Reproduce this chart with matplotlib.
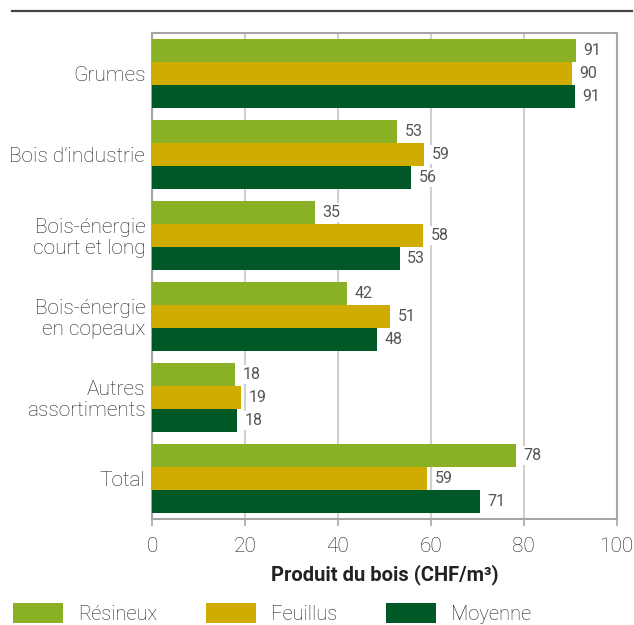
import numpy as np
import matplotlib
matplotlib.use('Agg')
from matplotlib import pyplot as plt
from matplotlib.patches import Patch
from matplotlib.lines import Line2D

# produit du bois par assortiment (CHF/m3)
categories = ['Grumes', 'Bois d\u2019industrie', 'Bois-énergie\ncourt et long',
              'Bois-énergie\nen copeaux', 'Autres\nassortiments', 'Total']
series = ['Résineux', 'Feuillus', 'Moyenne']
resineux = [91.2, 52.7, 35.05, 41.9, 17.8, 78.3]
feuillus = [90.4, 58.6, 58.3, 51.2, 19.1, 59.2]
moyenne = [91.0, 55.7, 53.3, 48.4, 18.3, 70.6]
xticks = [0, 20, 40, 60, 80, 100]

colors = ['#8ab026', '#d0ab00', '#005826']
text_col = '#222222'

plt.rcParams['font.family'] = ['Roboto', 'DejaVu Sans']

fig = plt.figure(figsize=(6.34, 6.25), dpi=100)
ax = fig.add_axes([0.2402, 0.1696, 0.7325, 0.7781])

y = np.arange(len(categories))
h = 0.284
for i, (vals, col) in enumerate(zip([resineux, feuillus, moyenne], colors)):
    pos = y + (i - 1) * h
    ax.barh(pos, vals, height=h, color=col, zorder=3)
    for p, v in zip(pos, vals):
        ax.text(v + 1.6, p, '%.0f' % v, va='center', ha='left', fontsize=11.5,
                fontweight='normal', color='#555555', zorder=4,
                bbox=dict(facecolor='white', edgecolor='none', pad=1.5))

ax.set_xlim(0, 100)
ax.set_ylim(len(categories) - 0.5, -0.5)
ax.set_xticks(xticks)
ax.set_xticklabels([str(t) for t in xticks], fontsize=15, fontweight='light',
                   color=text_col)
ax.set_yticks(y)
ax.set_yticklabels(categories, fontsize=15, fontweight='light',
                   color=text_col, linespacing=1.1)
ax.tick_params(axis='y', length=0, pad=5)
ax.tick_params(axis='x', length=5, width=1.2, color='#a6a6a6', pad=8)
ax.xaxis.grid(True, color='#d0d0d0', linewidth=1.5, zorder=0)
ax.set_axisbelow(True)
for s in ax.spines.values():
    s.set_color('#a6a6a6')
    s.set_linewidth(1.5)

ax.set_xlabel('Produit du bois (CHF/m³)', fontsize=14.5, fontweight='bold',
              color='#222222', labelpad=6)

# trait en haut
fig.add_artist(Line2D([12 / 634, 632 / 634], [1 - 11 / 625, 1 - 11 / 625],
                      color='#444444', linewidth=1.6))

handles = [Patch(facecolor=c, edgecolor='none') for c in colors]
fig.legend(handles, series, loc='lower left', bbox_to_anchor=(13 / 634, 1 / 625),
           ncol=3, frameon=False, handlelength=2.5,
           handleheight=1.15, handletextpad=0.75, columnspacing=2.4,
           borderpad=0, borderaxespad=0, prop={'weight': 'light', 'size': 14.5})
for t in fig.legends[0].get_texts():
    t.set_color(text_col)

fig.savefig('out.png', dpi=100)
